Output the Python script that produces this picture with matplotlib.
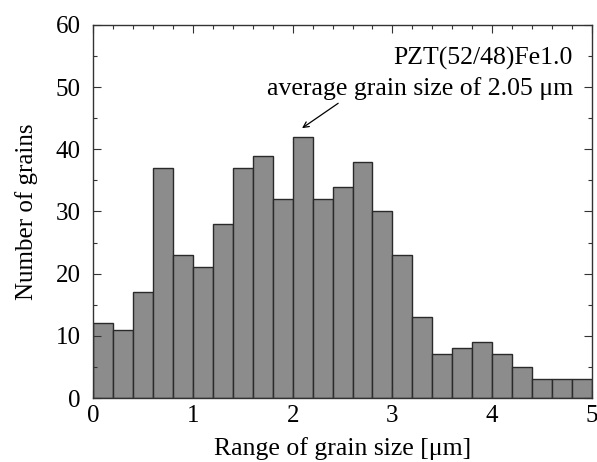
import numpy as np
import matplotlib.pyplot as plt
from matplotlib.ticker import MultipleLocator

plt.rcParams['font.family'] = ['Liberation Serif', 'DejaVu Serif']

# grain size histogram, 0.2 um bins
bin_edges = np.arange(0, 5.0001, 0.2)
counts = [12, 11, 17, 37, 23, 21, 28, 37, 39, 32, 42, 32, 34,
          38, 30, 23, 13, 7, 8, 9, 7, 5, 3, 3, 3]
sample_name = "PZT(52/48)Fe1.0"
avg_label = "average grain size of 2.05 \u03bcm"

fig = plt.figure(figsize=(5.97, 4.62), dpi=100)
ax = fig.add_axes([0.156, 0.1385, 0.8356, 0.8075])

ax.bar(bin_edges[:-1], counts, width=0.2, align='edge',
       color='#8c8c8c', edgecolor='#2a2a2a', linewidth=1.0)

ax.set_xlim(0, 5)
ax.set_ylim(0, 60)
ax.xaxis.set_major_locator(MultipleLocator(1))
ax.xaxis.set_minor_locator(MultipleLocator(0.2))
ax.yaxis.set_major_locator(MultipleLocator(10))
ax.yaxis.set_minor_locator(MultipleLocator(5))
ax.tick_params(which='both', direction='in', top=True, right=True,
               labelsize=18, width=0.8, color='#333333')
ax.tick_params(which='major', length=6)
ax.tick_params(axis='x', which='major', pad=5)
ax.tick_params(axis='y', which='major', pad=9)
ax.tick_params(which='minor', length=3)
for s in ax.spines.values():
    s.set_linewidth(1.0)
    s.set_color('#333333')

ax.set_xlabel("Range of grain size [\u03bcm]", fontsize=18.5, labelpad=7)
ax.set_ylabel("Number of grains", fontsize=18, labelpad=13)

ax.text(4.81, 53.6, sample_name, ha='right', va='baseline', fontsize=18.5)
ax.text(4.81, 48.7, avg_label, ha='right', va='baseline', fontsize=18.5)
ax.annotate("", xy=(2.094, 43.4), xytext=(2.456, 47.4),
            arrowprops=dict(arrowstyle='->', color='black', lw=0.9,
                            shrinkA=0, shrinkB=0))

fig.savefig("out.png", dpi=100)
